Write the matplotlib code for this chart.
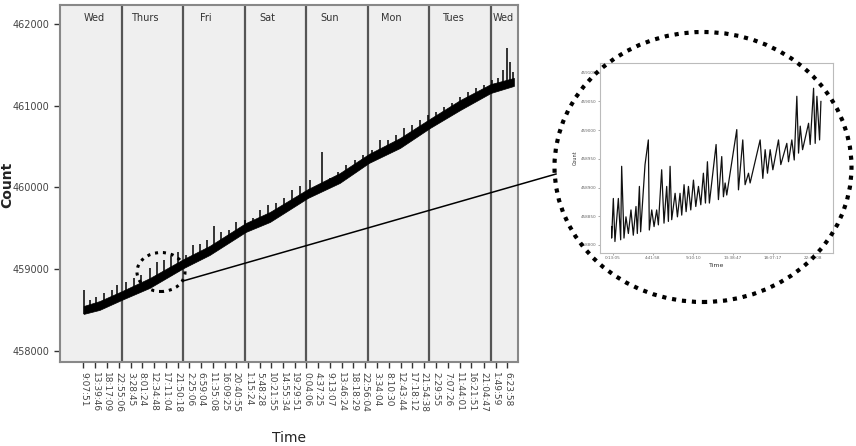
import numpy as np
import matplotlib.pyplot as plt
from matplotlib.patches import Ellipse
from matplotlib.lines import Line2D

# ---- data ----
day_names = ['Wed', 'Thurs', 'Fri', 'Sat', 'Sun', 'Mon', 'Tues', 'Wed']

tick_labels = ['9:07:51', '13:39:46', '18:17:09', '22:55:06', '3:28:45', '8:01:24',
               '12:34:48', '17:11:04', '21:50:18', '2:25:06', '6:59:04', '11:35:08',
               '16:09:25', '20:40:55', '1:15:24', '5:48:28', '10:21:55', '14:55:34',
               '19:29:51', '0:04:06', '4:37:25', '9:13:07', '13:46:24', '18:18:29',
               '22:56:04', '3:34:04', '8:10:30', '12:43:44', '17:18:12', '21:54:38',
               '2:29:55', '7:07:26', '11:44:01', '16:21:51', '21:04:47', '1:49:59',
               '6:23:58']

# hours since Wednesday 00:00, band envelope of the dense count series
band_hours = [9.2, 15.4, 24.0, 34.9, 48.2, 58.3, 72.4, 81.8, 96.6, 109.0,
              120.4, 132.5, 144.2, 156.0, 167.9, 176.9]
band_low = [458453, 458502, 458624, 458771, 459015, 459174, 459456, 459578, 459872, 460055,
            460300, 460483, 460728, 460948, 461156, 461242]
band_high = [458550, 458610, 458730, 458890, 459125, 459285, 459565, 459700, 459980, 460175,
             460410, 460605, 460840, 461070, 461265, 461340]

# spikes above the band
spike_hours = [9.2, 11.5, 14.2, 17.0, 20.1, 22.4, 25.9, 28.7, 31.4, 34.9, 37.7, 40.4,
               43.1, 45.8, 49.0, 51.7, 54.4, 57.2, 59.9, 62.6, 65.7, 68.5, 72.0, 75.1,
               77.8, 80.9, 84.1, 87.2, 90.3, 93.4, 97.3, 102.0, 105.2, 108.3, 111.4, 114.9,
               118.1, 121.6, 124.7, 127.8, 130.9, 134.0, 137.2, 140.3, 143.4, 146.5, 149.6,
               152.8, 155.9, 159.0, 162.1, 165.3, 168.4, 170.7, 172.7, 174.2, 175.4, 176.6]
spike_peak = [458746, 458624, 458661, 458710, 458746, 458807, 458844, 458893, 458930, 459015,
              459089, 459113, 459162, 459211, 459174, 459297, 459309, 459358, 459529, 459456,
              459480, 459578, 459602, 459627, 459725, 459786, 459810, 459872, 459969, 460018,
              460092, 460434, 460116, 460190, 460275, 460336, 460398, 460459, 460581, 460581,
              460642, 460728, 460765, 460826, 460887, 460924, 460985, 461034, 461107, 461168,
              461217, 461254, 461315, 461339, 461437, 461706, 461535, 461413]

# zoomed inset (Thursday)
inset_hours = [0.07, 0.07, 0.26, 0.44, 0.82, 1.08, 1.19, 1.45, 1.67, 1.94, 2.23, 2.49,
               2.79, 2.94, 3.17, 3.31, 3.80, 4.17, 4.28, 4.55, 4.81, 5.10, 5.29, 5.66,
               5.92, 6.22, 6.41, 6.60, 6.78, 7.16, 7.42, 7.71, 7.90, 8.16, 8.39, 8.65,
               8.91, 9.21, 9.47, 9.77, 10.03, 10.32, 10.55, 10.77, 10.99, 11.74, 12.00,
               12.37, 12.56, 12.75, 12.93, 14.05, 14.24, 14.72, 14.98, 15.36, 15.54, 16.66,
               16.96, 17.22, 17.48, 17.78, 18.08, 18.71, 18.97, 19.64, 19.83, 20.20, 20.47,
               20.76, 20.95, 21.14, 21.40, 22.07, 22.25, 22.63, 22.81, 23.00, 23.30, 23.45]
inset_count = [458832, 458812, 458881, 458806, 458881, 458809, 458937, 458812, 458849, 458820,
               458861, 458817, 458867, 458820, 458902, 458823, 458940, 458983, 458826, 458861,
               458832, 458861, 458835, 458931, 458838, 458902, 458841, 458937, 458844, 458890,
               458849, 458890, 458852, 458905, 458858, 458902, 458861, 458913, 458867, 458902,
               458870, 458925, 458873, 458945, 458873, 458975, 458879, 458954, 458884, 458908,
               458887, 459001, 458896, 458983, 458905, 458925, 458908, 458983, 458916, 458966,
               458925, 458966, 458931, 458983, 458940, 458977, 458945, 458983, 458948, 459059,
               458960, 459007, 458966, 459012, 458975, 459073, 458977, 459059, 458983, 459050]
inset_yticks = [458800, 458850, 458900, 458950, 459000, 459050, 459100]
inset_xlabels = ['0:13:05', '4:41:58', '9:10:10', '13:38:47', '18:07:17', '22:35:08']


def to_hours(labels):
    out, day, prev = [], 0, -1
    for s in labels:
        h, m, sec = [int(p) for p in s.split(':')]
        t = h + m / 60 + sec / 3600
        if t < prev:
            day += 1
        prev = t
        out.append(day * 24 + t)
    return out


fig = plt.figure(figsize=(8.56, 4.46), dpi=100)
W, H = 856, 446

# ---- main chart ----
ax = fig.add_axes([60 / W, 1 - 362 / H, 458 / W, 357 / H])
ax.set_facecolor('#efefef')
ax.set_xlim(0, 178.5)
ax.set_ylim(457865, 462232)

ax.fill_between(band_hours, band_low, band_high, color='black', lw=0.5, zorder=3)
spike_base = np.interp(spike_hours, band_hours, band_low)
ax.vlines(spike_hours, spike_base, spike_peak, color='black', lw=1.1, zorder=3)

for d in range(1, 8):
    ax.axvline(d * 24, color='#555555', lw=1.6, zorder=2)

label_pos = [13.5] + [d * 24 + 9 for d in range(1, 7)] + [172.7]
for x, name in zip(label_pos, day_names):
    ax.text(x, 0.963, name, transform=ax.get_xaxis_transform(), ha='center', va='center',
            fontsize=7, color='#333333')

ax.set_xticks(to_hours(tick_labels))
ax.set_xticklabels(tick_labels, rotation=270, fontsize=6.5, color='#444444')
ax.set_yticks([458000, 459000, 460000, 461000, 462000])
ax.set_yticklabels(['458000', '459000', '460000', '461000', '462000'], fontsize=7, color='#444444')
ax.tick_params(length=4, width=1, color='#333333')
for sp in ax.spines.values():
    sp.set_color('#888888')
    sp.set_linewidth(1.5)
ax.set_xlabel('Time', fontsize=10, color='#222222', labelpad=13)
fig.text(7 / W, 1 - 185 / H, 'Count', rotation=90, ha='center', va='center',
         fontsize=10, color='#222222', fontweight='bold')

# ---- zoomed inset ----
ins = fig.add_axes([600 / W, 1 - 253 / H, 233 / W, 190 / H])
ins.set_facecolor('white')
ins.plot(inset_hours, inset_count, color='#111111', lw=0.9)
ins.set_xlim(-1.23, 24.8)
ins.set_ylim(458786, 459117)
ins.set_yticks(inset_yticks)
ins.set_yticklabels([str(v) for v in inset_yticks], fontsize=3, color='#666666')
ins.set_xticks(to_hours(inset_xlabels))
ins.set_xticklabels(inset_xlabels, fontsize=3, color='#666666')
ins.tick_params(length=1.5, width=0.5, pad=1, color='#888888')
for sp in ins.spines.values():
    sp.set_color('#bbbbbb')
    sp.set_linewidth(0.8)
ins.set_xlabel('Time', fontsize=4.5, color='#333333', labelpad=2)
ins.set_ylabel('Count', fontsize=3.5, color='#333333', labelpad=2)

# ---- callout shapes ----
big = Ellipse((703 / W, 1 - 167 / H), 297 / W, 270 / H, transform=fig.transFigure,
              fill=False, lw=3, ls=(0, (1, 1.4)), color='black', zorder=10)
small = Ellipse((161 / W, 1 - 272 / H), 48 / W, 39 / H, transform=fig.transFigure,
                fill=False, lw=2.2, ls=(0, (1, 1.6)), color='black', zorder=10)
fig.add_artist(big)
fig.add_artist(small)
fig.add_artist(Line2D([183 / W, 556 / W], [1 - 281 / H, 1 - 174 / H], color='black',
                      lw=1.1, transform=fig.transFigure, zorder=10))

fig.savefig('out.png', dpi=100)
